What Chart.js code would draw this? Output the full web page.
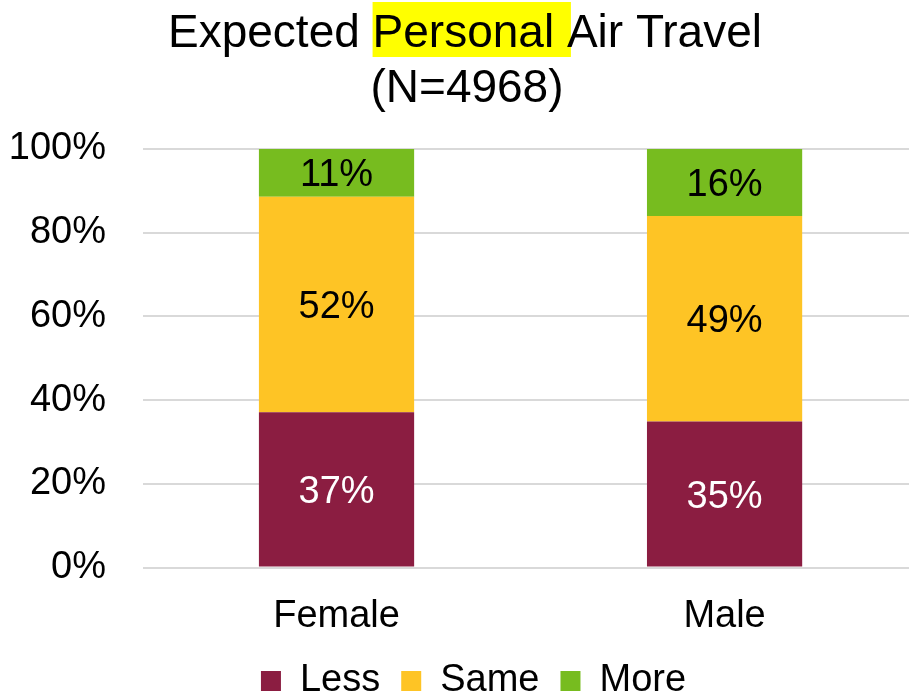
<!DOCTYPE html>
<html>
<head>
<meta charset="utf-8">
<script src="https://cdn.jsdelivr.net/npm/chart.js@4"></script>
<style>
  html, body { margin: 0; padding: 0; background: #fff; overflow: hidden; }
  canvas { display: block; }
</style>
</head>
<body>
<canvas id="airChart" width="947" height="710"></canvas>
<script>
// data
const categories = ["Female", "Male"];
const lessValues = [37.1, 34.9];
const sameValues = [51.5, 49.1];
const moreValues = [11.4, 16.0];
const yTicks = [0, 20, 40, 60, 80, 100];

const titleLine1 = ["Expected ", "Personal ", "Air Travel"];
const titleLine2 = "(N=4968)";

const FONT = "'Liberation Sans', Arial, sans-serif";
Chart.defaults.font.family = FONT;
Chart.defaults.color = "#000";

// title with yellow highlight on "Personal "
const titlePlugin = {
  id: "highlightTitle",
  afterDraw(chart) {
    const ctx = chart.ctx;
    ctx.save();
    ctx.font = "46px " + FONT;
    ctx.textBaseline = "alphabetic";
    ctx.textAlign = "left";
    const cx = 465;
    const full = titleLine1.join("");
    let x = cx - ctx.measureText(full).width / 2;
    const base1 = 47;
    const w0 = ctx.measureText(titleLine1[0]).width;
    const w1 = ctx.measureText(titleLine1[1]).width;
    ctx.fillStyle = "#ffff00";
    ctx.fillRect(x + w0, base1 - 45, w1 + 4, 55);
    ctx.fillStyle = "#000";
    ctx.fillText(full, x, base1);
    ctx.textAlign = "center";
    ctx.fillText(titleLine2, cx + 2, 102);
    ctx.restore();
  }
};

// percent labels inside each segment
const segmentLabels = {
  id: "segmentLabels",
  afterDatasetsDraw(chart) {
    const ctx = chart.ctx;
    ctx.save();
    ctx.font = "38px " + FONT;
    ctx.textAlign = "center";
    ctx.textBaseline = "middle";
    chart.data.datasets.forEach((ds, i) => {
      const meta = chart.getDatasetMeta(i);
      meta.data.forEach((bar, j) => {
        const v = ds.data[j];
        ctx.fillStyle = i === 0 ? "#fff" : "#000";
        ctx.fillText(Math.round(v) + "%", bar.x, (bar.y + bar.base) / 2 + 3);
      });
    });
    ctx.restore();
  }
};

new Chart(document.getElementById("airChart"), {
  type: "bar",
  data: {
    labels: categories,
    datasets: [
      { label: "Less", data: lessValues, backgroundColor: "#8b1d41" },
      { label: "Same", data: sameValues, backgroundColor: "#fec425" },
      { label: "More", data: moreValues, backgroundColor: "#77bc1f" }
    ]
  },
  options: {
    responsive: false,
    animation: false,
    devicePixelRatio: 1,
    layout: { padding: { top: 149, left: 0, right: 0, bottom: 0 } },
    datasets: {
      bar: { barPercentage: 0.4, categoryPercentage: 1.0, borderWidth: 0 }
    },
    scales: {
      x: {
        stacked: true,
        afterFit: scale => { scale.height = 73.4; },
        grid: { display: false, drawTicks: false },
        border: { display: false },
        ticks: { font: { size: 38 }, color: "#000", padding: 26.5 }
      },
      y: {
        stacked: true,
        min: 0,
        max: 100,
        afterBuildTicks: scale => { scale.ticks = yTicks.map(v => ({ value: v })); },
        afterFit: scale => { scale.width = 142.5; },
        grid: { color: "#d9d9d9", lineWidth: 2, drawTicks: false },
        border: { display: false },
        ticks: {
          font: { size: 38 },
          color: "#000",
          padding: 36.5,
          callback: v => v + "%"
        }
      },
      // empty right-hand strip so the legend sits where it does in the picture
      yRight: {
        position: "right",
        display: true,
        afterFit: scale => { scale.width = 28.4; },
        grid: { display: false, drawTicks: false },
        border: { display: false },
        ticks: { display: false }
      }
    },
    plugins: {
      title: { display: false },
      tooltip: { enabled: false },
      legend: {
        position: "bottom",
        labels: {
          font: { size: 38 },
          color: "#000",
          boxWidth: 20,
          boxHeight: 20,
          padding: 21
        }
      }
    }
  },
  plugins: [titlePlugin, segmentLabels]
});
</script>
</body>
</html>
